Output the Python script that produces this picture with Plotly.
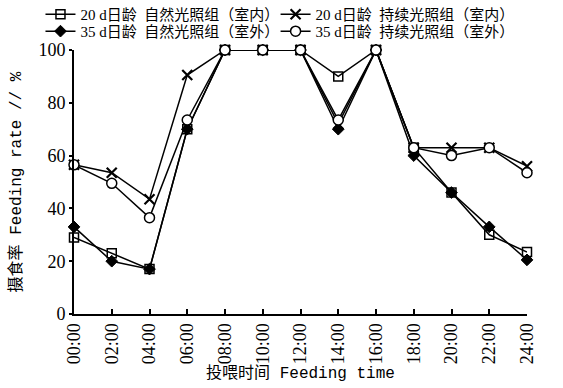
import plotly.graph_objects as go

times = ["00:00", "02:00", "04:00", "06:00", "08:00", "10:00", "12:00",
         "14:00", "16:00", "18:00", "20:00", "22:00", "24:00"]
d20_natural = [29, 23, 17, 70, 100, 100, 100, 90, 100, 63, 46, 30, 23.5]
d20_continuous = [56.5, 53.5, 43.5, 90.5, 100, 100, 100, 72, 100, 63, 63, 63, 56]
d35_natural = [33, 20, 17, 70, 100, 100, 100, 70, 100, 60, 46, 33, 20.5]
d35_continuous = [56.5, 49.5, 36.5, 73.5, 100, 100, 100, 73.5, 100, 63, 60, 63, 53.5]

names = ["20 d日龄  自然光照组（室内）", "20 d日龄  持续光照组（室内）",
         "35 d日龄  自然光照组（室外）", "35 d日龄  持续光照组（室外）"]

serif = "Liberation Serif, Noto Sans CJK SC, serif"
mono = "Liberation Mono, Noto Sans CJK SC, monospace"
x = list(range(len(times)))

fig = go.Figure()
styles = [
    (d20_natural, dict(symbol="square-open", size=9, color="black", line=dict(width=1.5, color="black")), "legend"),
    (d20_continuous, dict(symbol="x-thin-open", size=10, color="black", line=dict(width=2.2, color="black")), "legend2"),
    (d35_natural, dict(symbol="diamond", size=9, color="black", line=dict(width=1, color="black")), "legend3"),
    (d35_continuous, dict(symbol="circle", size=10, color="white", line=dict(width=1.5, color="black")), "legend4"),
]
for (vals, mk, lg), nm in zip(styles, names):
    fig.add_trace(go.Scatter(
        x=x, y=vals, mode="lines+markers", name=nm, legend=lg,
        line=dict(color="black", width=1.5), marker=mk, cliponaxis=False))

legend_common = dict(orientation="v", yanchor="top", xanchor="left",
                     itemwidth=30, font=dict(size=15, family=serif),
                     bgcolor="rgba(0,0,0,0)", traceorder="normal")

fig.update_layout(
    width=563, height=388,
    margin=dict(l=74, r=36, t=50, b=74, autoexpand=False),
    paper_bgcolor="white", plot_bgcolor="white",
    font=dict(family=serif, size=15, color="black"),
    showlegend=True,
    legend=dict(x=-0.074, y=1.197, **legend_common),
    legend2=dict(x=0.445, y=1.197, **legend_common),
    legend3=dict(x=-0.074, y=1.133, **legend_common),
    legend4=dict(x=0.445, y=1.133, **legend_common),
    xaxis=dict(range=[0, 12], tickvals=x, ticktext=times, tickangle=-90,
               showline=True, linecolor="black", linewidth=2, showgrid=False,
               zeroline=False, ticks="inside", ticklen=5, tickwidth=2, tickcolor="black",
               automargin=False,
               title=dict(text="投喂时间 Feeding time", standoff=4,
                          font=dict(size=16, family=mono)),
               tickfont=dict(size=18)),
    yaxis=dict(range=[0, 100], tickvals=[0, 20, 40, 60, 80, 100],
               showline=True, linecolor="black", linewidth=2, showgrid=False,
               zeroline=False, ticks="outside", ticklen=3, tickwidth=1.5, tickcolor="black",
               automargin=False,
               title=dict(text="摄食率 Feeding rate // %", standoff=13,
                          font=dict(size=16, family=mono)),
               tickfont=dict(size=18)),
)

fig.write_html("out.html", config={"displayModeBar": False},
               post_script="document.body.style.margin='0';")
